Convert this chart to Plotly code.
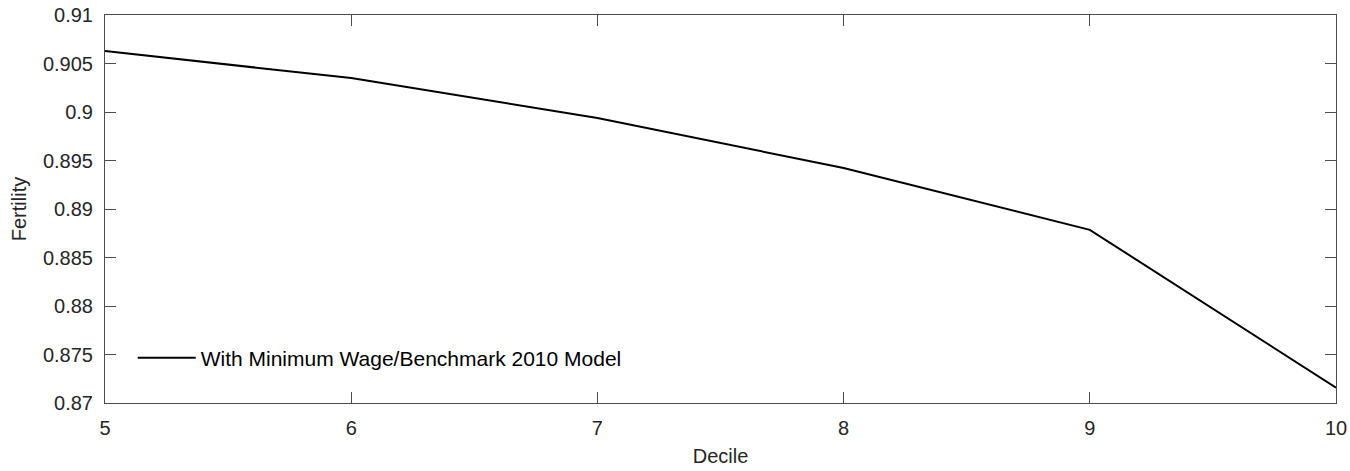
import plotly.graph_objects as go

deciles = [5, 6, 7, 8, 9, 10]
fertility = [0.90628, 0.90350, 0.89938, 0.89423, 0.88785, 0.87158]
series_name = "With Minimum Wage/Benchmark 2010 Model"
y_ticks = [0.87, 0.875, 0.88, 0.885, 0.89, 0.895, 0.9, 0.905, 0.91]
y_labels = ["0.87", "0.875", "0.88", "0.885", "0.89", "0.895", "0.9", "0.905", "0.91"]

FONT = "Liberation Sans, Arial, Helvetica"

fig = go.Figure()
fig.add_trace(go.Scatter(x=deciles, y=fertility, mode="lines", name=series_name,
                         line=dict(color="black", width=2)))

axis_common = dict(showline=True, linecolor="#4d4d4d", linewidth=1, mirror="ticks",
                   ticks="inside", ticklen=11, tickcolor="#4d4d4d", showgrid=False,
                   zeroline=False, automargin=False,
                   tickfont=dict(family=FONT, size=20, color="#262626"),
                   title_font=dict(family=FONT, size=20, color="#262626"))

fig.update_layout(
    width=1350, height=471,
    margin=dict(l=105, r=14, t=15, b=68),
    plot_bgcolor="white", paper_bgcolor="white",
    showlegend=True,
    legend=dict(x=0.0225, y=0.116, xanchor="left", yanchor="middle",
                itemwidth=58,
                bgcolor="rgba(255,255,255,0)", borderwidth=0,
                font=dict(family=FONT, size=21, color="black")),
    xaxis=dict(range=[5, 10], tickvals=deciles, ticklabelstandoff=7,
               title=dict(text="Decile", standoff=10), **axis_common),
    yaxis=dict(range=[0.87, 0.91], tickvals=y_ticks, ticktext=y_labels, ticklabelstandoff=7,
               title=dict(text="Fertility", standoff=10), **axis_common),
)

fig.write_html("out.html", config={"displayModeBar": False})

with open("out.html", "r", encoding="utf-8") as f:
    html = f.read()
html = html.replace("<body>", '<body style="margin:0;padding:0;overflow:hidden">', 1)
with open("out.html", "w", encoding="utf-8") as f:
    f.write(html)
